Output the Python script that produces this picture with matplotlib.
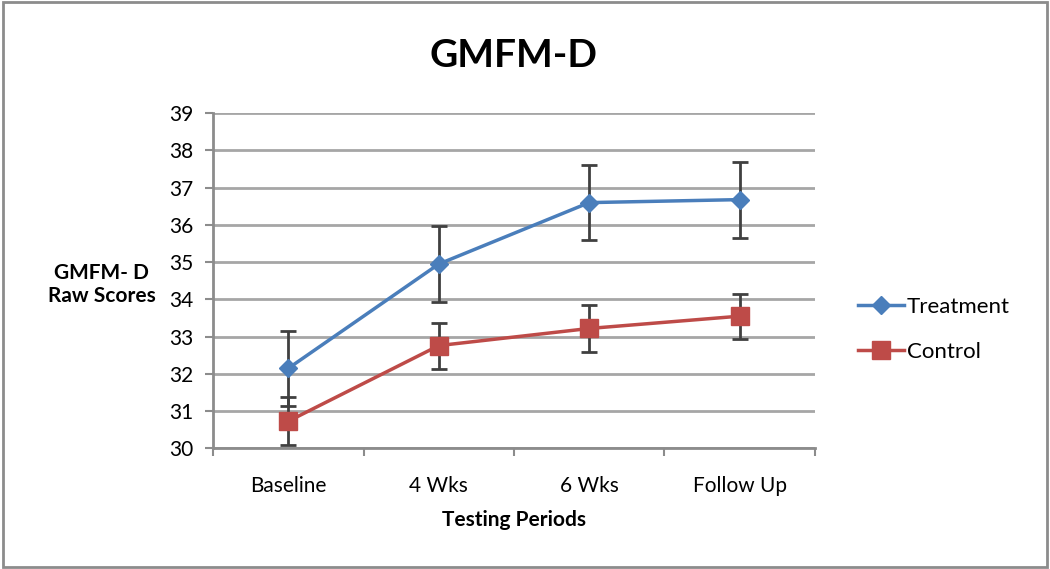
import numpy as np
import matplotlib.pyplot as plt
from matplotlib.patches import Rectangle

plt.rcParams['font.family'] = ['Lato', 'DejaVu Sans']

periods = ['Baseline', '4 Wks', '6 Wks', 'Follow Up']
treatment = [32.15, 34.95, 36.6, 36.68]
treatment_err = [1.0, 1.02, 1.0, 1.02]
control = [30.73, 32.76, 33.22, 33.55]
control_err = [0.64, 0.62, 0.62, 0.6]

fig = plt.figure(figsize=(10.5, 5.69), dpi=100)
ax = fig.add_axes([0.203, 0.212, 0.573, 0.589])

x = np.arange(len(periods))

# error bars first, lines + markers on top
ax.errorbar(x, treatment, yerr=treatment_err, fmt='none', ecolor='#404040',
            elinewidth=2, capsize=6, capthick=2, zorder=2)
ax.errorbar(x, control, yerr=control_err, fmt='none', ecolor='#404040',
            elinewidth=2, capsize=6, capthick=2, zorder=2)
ax.plot(x, treatment, color='#4a7ebb', lw=2.5, marker='D', markersize=9,
        label='Treatment', zorder=3)
ax.plot(x, control, color='#be4b48', lw=2.5, marker='s', markersize=13,
        label='Control', zorder=3)

ax.set_ylim(30, 39)
ax.set_xlim(-0.5, len(periods) - 0.5)
ax.set_yticks(range(30, 40))
ax.set_xticks(x)
ax.set_xticklabels(periods)
ax.set_xticks(np.arange(-0.5, len(periods)), minor=True)
ax.tick_params(axis='x', which='major', length=0, pad=20, labelsize=15)
ax.tick_params(axis='x', which='minor', length=6, width=1.5, color='#8c8c8c')
ax.tick_params(axis='y', length=6, width=1.5, color='#8c8c8c', labelsize=15, pad=8)
ax.grid(axis='y', color='#a6a6a6', lw=2)
ax.set_axisbelow(True)
for s in ['top', 'right']:
    ax.spines[s].set_visible(False)
for s in ['left', 'bottom']:
    ax.spines[s].set_color('#8c8c8c')
    ax.spines[s].set_linewidth(2)

ax.set_title('GMFM-D', fontsize=28, fontweight='bold', pad=33)
ax.set_xlabel('Testing Periods', fontsize=15, fontweight='bold', labelpad=10)
ax.set_ylabel('GMFM- D\nRaw Scores', fontsize=15, fontweight='bold',
              rotation=0, ha='center', va='center', labelpad=0)
ax.yaxis.set_label_coords(-0.185, 0.49)

ax.legend(loc='center left', bbox_to_anchor=(1.038, 0.355), frameon=False,
          fontsize=16, handlelength=2.1, handletextpad=0.1, labelspacing=1.15)

fig.patches.append(Rectangle((0.003, 0.004), 0.994, 0.992, transform=fig.transFigure,
                             fill=False, edgecolor='#8c8c8c', lw=2))

plt.savefig('out.png', dpi=100)
